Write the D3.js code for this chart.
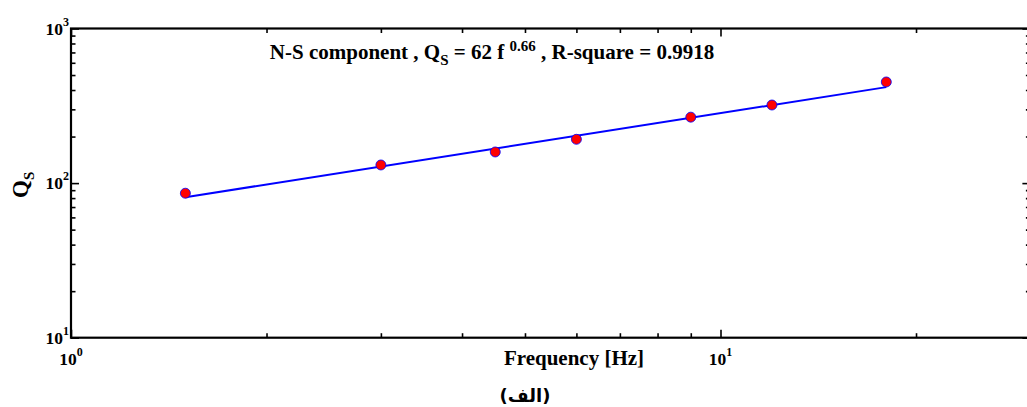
<!DOCTYPE html>
<html><head><meta charset="utf-8">
<script src="https://cdn.jsdelivr.net/npm/d3@7"></script>
<style>
body{margin:0;background:#fff}
svg{display:block}
text{font-family:"Liberation Serif","Times New Roman",serif;font-weight:bold;fill:#000}
</style>
</head><body>
<svg id="chart" width="1027" height="407"></svg>
<script>
// Observed quality factor (N-S component) versus frequency
const frequency = [1.5, 3, 4.5, 6, 9, 12, 18];
const qs = [86, 131, 159, 192, 267, 320, 451];

// Power-law fit Q = a * f^b
const fitCoef = 62;
const fitExp = 0.66;
const rSquare = 0.9918;

// Tick positions (log axes)
const xMajor = [1, 10];
const xMinor = [2, 3, 4, 5, 6, 7, 8, 9, 20, 30];
const yMajor = [10, 100, 1000];
const yMinor = [20, 30, 40, 50, 60, 70, 80, 90, 200, 300, 400, 500, 600, 700, 800, 900];

const svg = d3.select("#chart");
const plotLeft = 71, plotTop = 28.5, plotBottom = 337.7;
const decadeX = 649.5;

const x = d3.scaleLog().domain([1, 30]).range([plotLeft, plotLeft + decadeX * Math.log10(30)]);
const y = d3.scaleLog().domain([10, 1000]).range([plotBottom, plotTop]);
const plotRight = x.range()[1];

// Ticks on all four sides, pointing inward
function tickGroup(axisFn, scale, values, size, transform) {
  svg.append("g")
    .attr("transform", transform)
    .call(axisFn(scale).tickValues(values).tickSize(size).tickFormat(""))
    .call(g => g.select(".domain").remove())
    .call(g => g.selectAll("line").attr("stroke", "#000").attr("stroke-width", 1.6));
}
tickGroup(d3.axisBottom, x, xMajor, -8, `translate(0,${plotBottom})`);
tickGroup(d3.axisBottom, x, xMinor, -4.5, `translate(0,${plotBottom})`);
tickGroup(d3.axisTop, x, xMajor, -8, `translate(0,${plotTop})`);
tickGroup(d3.axisTop, x, xMinor, -4.5, `translate(0,${plotTop})`);
tickGroup(d3.axisLeft, y, yMajor, -8, `translate(${plotLeft},0)`);
tickGroup(d3.axisLeft, y, yMinor, -4.5, `translate(${plotLeft},0)`);
tickGroup(d3.axisRight, y, yMajor, -8, `translate(${plotRight},0)`);
tickGroup(d3.axisRight, y, yMinor, -4.5, `translate(${plotRight},0)`);

// Frame
svg.append("rect")
  .attr("x", plotLeft).attr("y", plotTop)
  .attr("width", plotRight - plotLeft).attr("height", plotBottom - plotTop)
  .attr("fill", "none").attr("stroke", "#000").attr("stroke-width", 2.2);

// Power-of-ten labels
function powLabel(px, py, exp, anchor) {
  const t = svg.append("text")
    .attr("x", px).attr("y", py)
    .attr("text-anchor", anchor)
    .style("font-size", "17.5px");
  t.append("tspan").text("10");
  t.append("tspan").attr("dy", -9).style("font-size", "12px").text(exp);
}
yMajor.forEach(v => powLabel(plotLeft - 2, y(v) + 6, Math.round(Math.log10(v)), "end"));
xMajor.forEach(v => powLabel(x(v), plotBottom + 27, Math.round(Math.log10(v)), "middle"));

// Fitted power law between the first and last frequency
const fitLine = d3.extent(frequency).map(f => ({f, q: fitCoef * Math.pow(f, fitExp)}));
svg.append("path")
  .datum(fitLine)
  .attr("fill", "none")
  .attr("stroke", "#0000ff")
  .attr("stroke-width", 2)
  .attr("d", d3.line().x(d => x(d.f)).y(d => y(d.q)));

// Observations
svg.append("g").selectAll("circle")
  .data(frequency.map((f, i) => ({f, q: qs[i]})))
  .join("circle")
  .attr("cx", d => x(d.f)).attr("cy", d => y(d.q))
  .attr("r", 5)
  .attr("fill", "#ff0000")
  .attr("stroke", "#0000ff")
  .attr("stroke-width", 0.8);

// Title with fit equation
const title = svg.append("text")
  .attr("x", 492).attr("y", 59)
  .attr("text-anchor", "middle")
  .style("font-size", "21px");
title.append("tspan").text("N-S component , Q");
title.append("tspan").attr("dy", 6).style("font-size", "15px").text("S");
title.append("tspan").attr("dy", -6).text(` = ${fitCoef} f `);
title.append("tspan").attr("dy", -8).style("font-size", "15px").text(fitExp.toFixed(2));
title.append("tspan").attr("dy", 8).text(` , R-square = ${rSquare}`);

// Axis titles
svg.append("text")
  .attr("x", 574).attr("y", 365)
  .attr("text-anchor", "middle")
  .style("font-size", "21px")
  .text("Frequency [Hz]");

const yTitle = svg.append("text")
  .attr("transform", "translate(28,198) rotate(-90)")
  .attr("text-anchor", "start")
  .style("font-size", "23px");
yTitle.append("tspan").text("Q");
yTitle.append("tspan").attr("dy", 6).style("font-size", "15px").text("S");

// Panel caption
svg.append("text")
  .attr("x", 525).attr("y", 402)
  .attr("text-anchor", "middle")
  .style("font-family", "'DejaVu Sans', sans-serif")
  .style("font-size", "18px")
  .text("(الف)");
</script>
</body></html>
